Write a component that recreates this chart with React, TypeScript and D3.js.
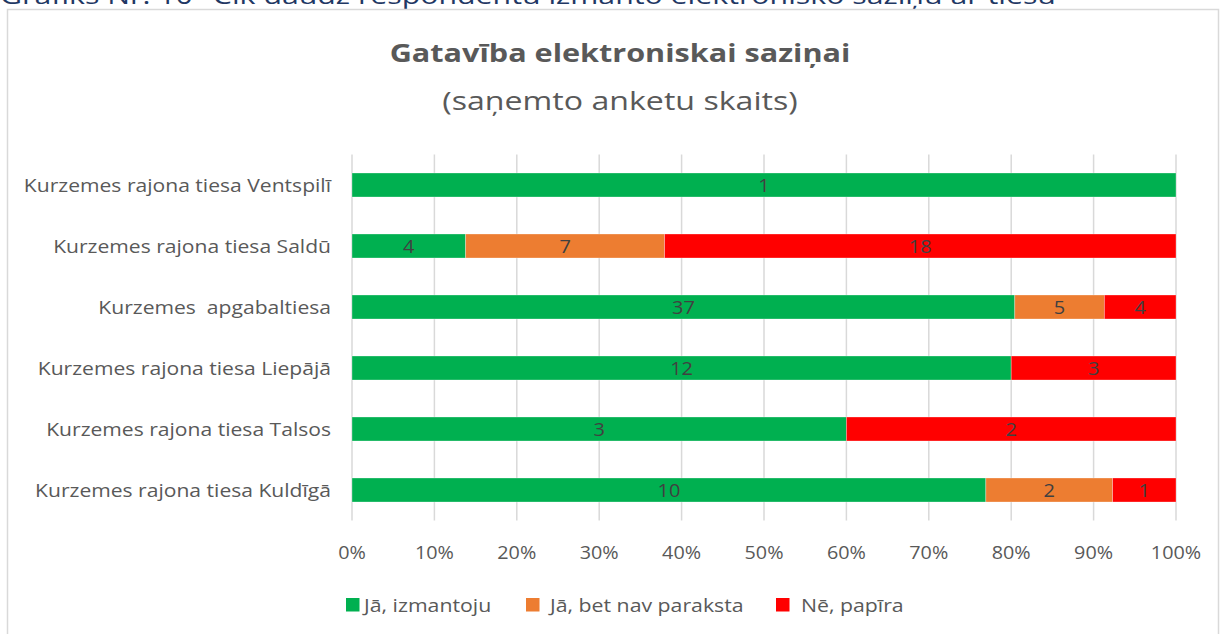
import React from "react";
import * as d3 from "d3";

const categories = [
  "Kurzemes rajona tiesa Ventspilī",
  "Kurzemes rajona tiesa Saldū",
  "Kurzemes  apgabaltiesa",
  "Kurzemes rajona tiesa Liepājā",
  "Kurzemes rajona tiesa Talsos",
  "Kurzemes rajona tiesa Kuldīgā",
];
const seriesNames = ["Jā, izmantoju", "Jā, bet nav paraksta", "Nē, papīra"];
const izmantoju = [1, 4, 37, 12, 3, 10];
const navParaksta = [0, 7, 5, 0, 0, 2];
const papira = [0, 18, 4, 3, 2, 1];
const colors = ["#00B050", "#ED7D31", "#FF0000"];
const tickValues = [0, 0.1, 0.2, 0.3, 0.4, 0.5, 0.6, 0.7, 0.8, 0.9, 1];

const W = 1221;
const H = 634;
const FONT = "'Open Sans', Lato, sans-serif";

function SText(props: any) {
  const { x, y, sx = 1, children, ...rest } = props;
  return (
    <text transform={`translate(${x},${y}) scale(${sx},1)`} {...rest}>
      {children}
    </text>
  );
}

export default function App() {
  const x = d3.scaleLinear().domain([0, 1]).range([352, 1176]);
  const y = d3.scaleBand().domain(categories).range([154.5, 520.5]).paddingInner(0.6066).paddingOuter(0.3033);
  const barH = y.bandwidth();
  const yc = (c: string) => (y(c) as number) + barH / 2;

  const rows = categories.map((c, i) => ({ key: c, vals: [izmantoju[i], navParaksta[i], papira[i]] }));
  const stack = d3
    .stack<any>()
    .keys(["0", "1", "2"])
    .value((d: any, k: string) => d.vals[+k] / d3.sum(d.vals));
  const stacked = stack(rows as any);

  return (
    <div style={{ position: "absolute", left: 0, top: 0 }}>
      <svg width={W} height={H} style={{ display: "block", fontFamily: FONT }}>
        <rect x={0} y={0} width={W} height={H} fill="#fff" />
        <text x={0} y={4} fontSize={24} fill="#1F3864" textLength={1068} lengthAdjust="spacingAndGlyphs">
          Grafiks Nr. 10 "Cik daudz respondentu izmanto elektronisko saziņu ar tiesu"
        </text>
        <rect x={7.5} y={9.5} width={1211} height={640} fill="#fff" stroke="#D9D9D9" strokeWidth={1.5} />
        <SText x={620} y={62} sx={1.2} textAnchor="middle" fontSize={25.5} fontWeight="bold" fill="#595959">
          Gatavība elektroniskai saziņai
        </SText>
        <SText x={620} y={110} sx={1.26} textAnchor="middle" fontSize={25.5} fill="#595959">
          (saņemto anketu skaits)
        </SText>
        {tickValues.map((t) => (
          <g key={t}>
            <line x1={x(t)} x2={x(t)} y1={154.5} y2={520.5} stroke="#D9D9D9" strokeWidth={1.5} />
            <SText x={x(t)} y={559} sx={1.07} textAnchor="middle" fontSize={18.5} fill="#595959">
              {d3.format(".0%")(t)}
            </SText>
          </g>
        ))}
        {categories.map((c) => (
          <SText key={c} x={331} y={yc(c) + 6.7} sx={1.14} textAnchor="end" fontSize={18.5} fill="#595959" style={{ whiteSpace: "pre" }}>
            {c}
          </SText>
        ))}
        {stacked.map((s, si) =>
          s.map((d: any, i: number) => {
            const c = categories[i];
            const v = rows[i].vals[si];
            if (!v) return null;
            const x0 = x(d[0]);
            const x1 = x(d[1]);
            return (
              <g key={si + "-" + i}>
                <rect x={x0} y={yc(c) - barH / 2} width={x1 - x0} height={barH} fill={colors[si]} stroke="#ffffff" strokeOpacity={0.4} strokeWidth={0.75} />
                <SText x={(x0 + x1) / 2} y={yc(c) + 6.7} sx={1.08} textAnchor="middle" fontSize={18.5} fill="#404040">
                  {v}
                </SText>
              </g>
            );
          })
        )}
        {seriesNames.map((n, i) => {
          const lx = [346, 526, 776][i];
          const tx = [364, 550, 801][i];
          return (
            <g key={n}>
              <rect x={lx} y={598} width={13.5} height={13.5} fill={colors[i]} />
              <SText x={tx} y={611.5} sx={1.15} fontSize={18.5} fill="#595959">
                {n}
              </SText>
            </g>
          );
        })}
      </svg>
    </div>
  );
}
